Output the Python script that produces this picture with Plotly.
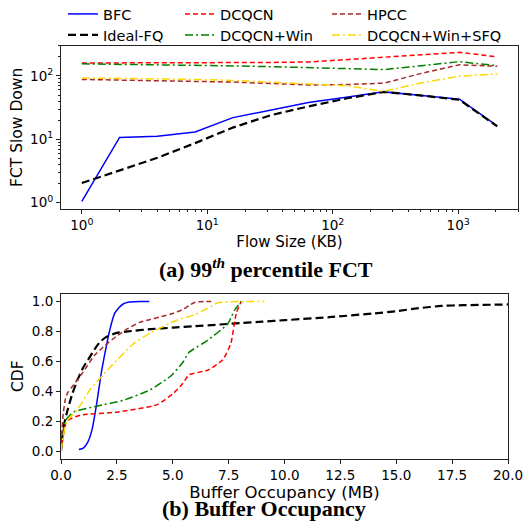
import plotly.graph_objects as go

# ---------------- data ----------------
flow_size = [1, 2, 4, 8, 16, 32, 64, 128, 256, 512, 1024, 2048]
fct_bfc = [1.05, 10.7, 11.2, 13.0, 22, 29, 38, 46, 56, 49, 43, 16.3]
fct_ideal = [2.04, 3.2, 5.1, 8.7, 15.3, 24, 33, 44, 56, 49, 42, 16]
fct_dcqcn = [160, 160, 160, 161, 162, 163, 166, 180, 197, 215, 236, 200]
fct_dcqcn_win = [155, 153, 150, 147, 144, 140, 135, 130, 126, 145, 168, 145]
fct_hpcc = [88, 86, 85, 83, 80, 76, 72, 73, 77, 110, 150, 142]
fct_sfq = [93, 92, 90, 88, 85, 80, 76, 70, 57, 78, 99, 108]

buf_bfc_x = [0.8, 1.0, 1.2, 1.4, 1.6, 1.8, 2.0, 2.2, 2.4, 2.6, 2.8, 3.0, 3.5, 3.95]
buf_bfc_y = [0.01, 0.02, 0.06, 0.15, 0.32, 0.52, 0.68, 0.82, 0.92, 0.96, 0.985, 0.995, 1.0, 1.0]

buf_ideal_x = [0, 0.1, 0.25, 0.5, 0.75, 1.0, 1.25, 1.5, 1.75, 2.0, 2.5, 3.0, 4.0, 5.0, 6.0,
               7.0, 8.0, 9.0, 10, 12, 14, 15, 16, 17, 18, 20]
buf_ideal_y = [0.0, 0.15, 0.25, 0.38, 0.48, 0.56, 0.62, 0.68, 0.73, 0.76, 0.79, 0.80, 0.815,
               0.825, 0.835, 0.845, 0.855, 0.865, 0.875, 0.895, 0.92, 0.935, 0.955, 0.97, 0.975, 0.98]

buf_hpcc_x = [0, 0.05, 0.1, 0.2, 0.3, 0.5, 0.75, 1.0, 1.5, 2.0, 2.5, 3.0, 3.5, 4.0, 4.5, 5.0,
              5.5, 5.8, 6.0, 6.5, 6.8]
buf_hpcc_y = [0.0, 0.15, 0.25, 0.35, 0.39, 0.43, 0.48, 0.53, 0.64, 0.71, 0.77, 0.82, 0.86, 0.88,
              0.9, 0.92, 0.95, 0.98, 0.995, 1.0, 1.0]

buf_sfq_x = [0, 0.1, 0.26, 0.7, 1.3, 2.2, 3.26, 4.0, 5.2, 5.96, 6.56, 7.0, 8.06, 9.1]
buf_sfq_y = [0.0, 0.1, 0.2, 0.27, 0.41, 0.56, 0.72, 0.79, 0.876, 0.91, 0.955, 0.99, 1.0, 1.0]

buf_win_x = [0, 0.05, 0.18, 0.55, 1.6, 2.8, 4.0, 4.9, 5.44, 5.73, 6.56, 7.46, 7.76, 8.06]
buf_win_y = [0.0, 0.07, 0.2, 0.26, 0.3, 0.34, 0.41, 0.5, 0.59, 0.66, 0.74, 0.85, 0.94, 1.0]

buf_dcqcn_x = [0, 0.05, 0.26, 0.86, 2.5, 4.3, 5.06, 5.44, 5.73, 6.56, 7.24, 7.6, 7.84, 8.06]
buf_dcqcn_y = [0.0, 0.05, 0.2, 0.24, 0.26, 0.31, 0.39, 0.45, 0.51, 0.54, 0.61, 0.72, 0.92, 1.0]

colors = {"BFC": "#0000ff", "Ideal-FQ": "#000000", "DCQCN": "#ff0000",
          "DCQCN+Win": "#008000", "HPCC": "#a52a2a", "DCQCN+Win+SFQ": "#ffd700"}
dashes = {"BFC": "solid", "Ideal-FQ": "8px,4px", "DCQCN": "5px,3px",
          "DCQCN+Win": "8px,3px,2px,3px", "HPCC": "5px,3px", "DCQCN+Win+SFQ": "8px,3px,2px,3px"}
widths = {"BFC": 1.5, "Ideal-FQ": 2.2, "DCQCN": 1.5, "DCQCN+Win": 1.5, "HPCC": 1.5,
          "DCQCN+Win+SFQ": 1.5}

fct = {"BFC": fct_bfc, "Ideal-FQ": fct_ideal, "DCQCN": fct_dcqcn,
       "DCQCN+Win": fct_dcqcn_win, "HPCC": fct_hpcc, "DCQCN+Win+SFQ": fct_sfq}
buf = {"BFC": (buf_bfc_x, buf_bfc_y), "Ideal-FQ": (buf_ideal_x, buf_ideal_y),
       "DCQCN": (buf_dcqcn_x, buf_dcqcn_y), "DCQCN+Win": (buf_win_x, buf_win_y),
       "HPCC": (buf_hpcc_x, buf_hpcc_y), "DCQCN+Win+SFQ": (buf_sfq_x, buf_sfq_y)}

# page body has an 8px margin: figure is drawn inside it
OFF = 8
W, H = 532 - 2 * OFF, 529 - 2 * OFF


def px_x(p):
    return (p - OFF) / W


def px_y(p):
    return 1 - (p - OFF) / H


# legend slot (reference pixel positions): one legend per entry
legend_pos = {"BFC": ("legend", 63, 14), "DCQCN": ("legend2", 180, 14),
              "HPCC": ("legend3", 327, 14), "Ideal-FQ": ("legend4", 63, 35),
              "DCQCN+Win": ("legend5", 180, 35), "DCQCN+Win+SFQ": ("legend6", 327, 35)}

fig = go.Figure()
plot_order = ["BFC", "Ideal-FQ", "DCQCN", "DCQCN+Win", "HPCC", "DCQCN+Win+SFQ"]
for n in plot_order:
    fig.add_trace(go.Scatter(x=flow_size, y=fct[n], mode="lines", name=n,
                             line=dict(color=colors[n], dash=dashes[n], width=widths[n]),
                             xaxis="x", yaxis="y", legend=legend_pos[n][0]))
for n in plot_order:
    bx, by = buf[n]
    fig.add_trace(go.Scatter(x=bx, y=by, mode="lines", name=n, showlegend=False,
                             line=dict(color=colors[n], dash=dashes[n], width=widths[n],
                                       shape="spline", smoothing=0.5),
                             xaxis="x2", yaxis="y2"))

tickfont = dict(family="DejaVu Sans", size=13.5, color="#000")
axis_common = dict(showline=True, linecolor="#222", linewidth=1, mirror=True,
                   ticks="outside", ticklen=4, tickcolor="#222", showgrid=False,
                   zeroline=False, tickfont=tickfont, automargin=False)

minor_x = [v * m for v in (1, 10, 100, 1000) for m in range(2, 10)]
minor_y = [v * m for v in (1, 10, 100) for m in range(2, 10)]

fig.update_layout(
    width=W, height=H, margin=dict(l=0, r=0, t=0, b=0, autoexpand=False),
    paper_bgcolor="white", plot_bgcolor="white",
    font=dict(family="DejaVu Sans", color="#000"),
    xaxis=dict(**axis_common, type="log", domain=[px_x(61), px_x(518)],
               range=[-0.166, 3.477], anchor="y",
               tickvals=[1, 10, 100, 1000],
               ticktext=["10<sup>0</sup>", "10<sup>1</sup>", "10<sup>2</sup>", "10<sup>3</sup>"],
               minor=dict(tickvals=minor_x, ticks="outside", ticklen=2, tickcolor="#222"),
               title=dict(text="Flow Size (KB)", font=dict(family="DejaVu Sans", size=15),
                          standoff=4)),
    yaxis=dict(**axis_common, type="log", domain=[px_y(209), px_y(45.7)],
               range=[-0.1, 2.477], anchor="x",
               tickvals=[1, 10, 100],
               ticktext=["10<sup>0</sup>", "10<sup>1</sup>", "10<sup>2</sup>"],
               minor=dict(tickvals=minor_y, ticks="outside", ticklen=2, tickcolor="#222"),
               title=dict(text="FCT Slow Down", font=dict(family="DejaVu Sans", size=15.5),
                          standoff=4)),
    xaxis2=dict(**axis_common, domain=[px_x(61), px_x(508)], range=[0, 20], anchor="y2",
                tickvals=[0, 2.5, 5, 7.5, 10, 12.5, 15, 17.5, 20],
                ticktext=["0.0", "2.5", "5.0", "7.5", "10.0", "12.5", "15.0", "17.5", "20.0"],
                title=dict(text="Buffer Occupancy (MB)",
                           font=dict(family="DejaVu Sans", size=16.5), standoff=1)),
    yaxis2=dict(**axis_common, domain=[px_y(458.5), px_y(294)], range=[-0.05, 1.05],
                anchor="x2", tickvals=[0, 0.2, 0.4, 0.6, 0.8, 1.0],
                ticktext=["0.0", "0.2", "0.4", "0.6", "0.8", "1.0"],
                title=dict(text="CDF", font=dict(family="DejaVu Sans", size=15.5), standoff=4)),
)

leg_font = dict(family="DejaVu Sans", size=14.5, color="#000")
for n, (lname, lx, ly) in legend_pos.items():
    fig.update_layout({lname: dict(orientation="v", yanchor="middle", y=px_y(ly),
                                   xanchor="left", x=px_x(lx), bgcolor="rgba(0,0,0,0)",
                                   borderwidth=0, itemwidth=30, font=leg_font)})

cap_font = dict(family="Liberation Serif", size=22, color="#000")
fig.add_annotation(text="<b>(a) 99<sup><i>th</i></sup> percentile FCT</b>", x=px_x(266),
                   y=px_y(268), xref="paper", yref="paper", xanchor="center",
                   yanchor="middle", showarrow=False, font=cap_font)
fig.add_annotation(text="<b>(b) Buffer Occupancy</b>", x=px_x(263.5), y=px_y(508),
                   xref="paper", yref="paper", xanchor="center", yanchor="middle",
                   showarrow=False, font=cap_font)

fig.write_html("out.html")
